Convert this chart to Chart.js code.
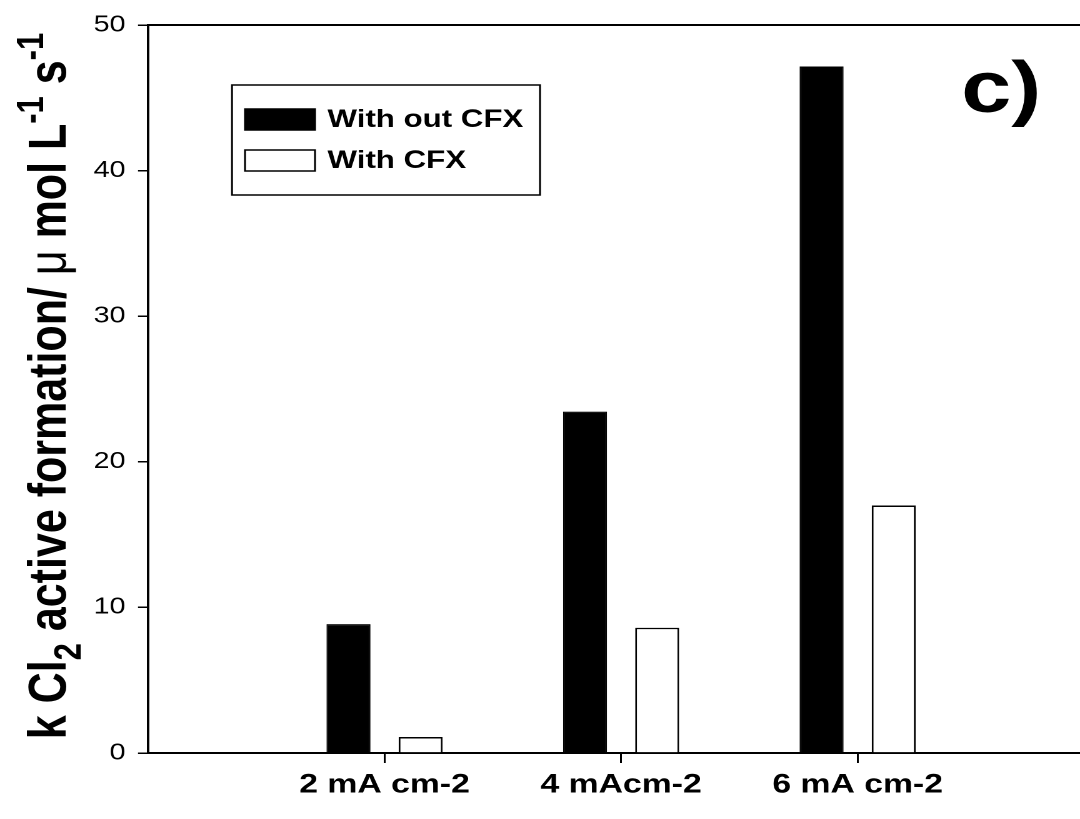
<!DOCTYPE html>
<html lang="en">
  <head>
    <meta charset="UTF-8" />
    <title>k Cl2 active formation</title>
    <script src="https://cdn.jsdelivr.net/npm/chart.js"></script>
    <style>
      html,
      body {
        margin: 0;
        padding: 0;
        background: #ffffff;
        overflow: hidden;
      }
      canvas {
        display: block;
      }
    </style>
  </head>
  <body>
    <!-- drawn on a narrower canvas, then stretched to full width -->
    <canvas id="kcl2Chart" width="864" height="819" style="width: 1080px; height: 819px"></canvas>
    <script>
      const categories = ["2 mA cm-2", "4 mAcm-2", "6 mA cm-2"];
      const withoutCFX = [8.85, 23.45, 47.15];
      const withCFX = [1.1, 8.6, 17.0];
      const seriesNames = ["With out CFX", "With CFX"];
      const yMax = 50;
      const yStep = 10;

      const FONT = "'Liberation Sans', Arial, sans-serif";

      // bars sit at x = 1, 2, 3 on a linear axis that starts at 0
      const toPoints = (vals) => vals.map((v, i) => ({ x: i + 1, y: v }));

      // y-axis title with sub- and superscripts
      const yTitlePlugin = {
        id: "yTitle",
        afterDraw(chart) {
          const ctx = chart.ctx;
          const size = 43;
          const parts = [
            { t: "k Cl" },
            { t: "2", sub: true },
            { t: " active formation/ " },
            { t: "\u03bc", normal: true },
            { t: " mol L" },
            { t: "-1", sup: true },
            { t: " s" },
            { t: "-1", sup: true },
          ];
          const fontFor = (p) => {
            const s = p.sub || p.sup ? Math.round(size * 0.72) : size;
            return (p.normal ? "normal " : "bold ") + s + "px " + FONT;
          };
          let total = 0;
          parts.forEach((p) => {
            ctx.font = fontFor(p);
            p.w = ctx.measureText(p.t).width;
            total += p.w;
          });
          ctx.save();
          ctx.translate(52.5, 386 + total / 2);
          ctx.rotate(-Math.PI / 2);
          ctx.fillStyle = "#000";
          ctx.textBaseline = "alphabetic";
          ctx.textAlign = "left";
          let x = 0;
          parts.forEach((p) => {
            ctx.font = fontFor(p);
            let dy = 0;
            if (p.sub) dy = size * 0.28;
            if (p.sup) dy = -size * 0.42;
            ctx.fillText(p.t, x, dy);
            x += p.w;
          });
          ctx.restore();
        },
      };

      // boxed legend inside the plot, plus the panel letter
      const insideLegendPlugin = {
        id: "insideLegend",
        afterDraw(chart) {
          const ctx = chart.ctx;
          ctx.save();
          ctx.lineWidth = 1.5;
          ctx.strokeStyle = "#000";
          ctx.strokeRect(185.6, 85, 246.4, 110);
          chart.data.datasets.forEach((ds, i) => {
            const y = 109 + i * 41;
            ctx.fillStyle = ds.backgroundColor;
            ctx.fillRect(196, y, 56, 21);
            ctx.lineWidth = 1.5;
            ctx.strokeStyle = ds.borderColor;
            ctx.strokeRect(196, y, 56, 21);
            ctx.fillStyle = "#000";
            ctx.font = "bold 25px " + FONT;
            ctx.textBaseline = "middle";
            ctx.textAlign = "left";
            ctx.fillText(ds.label, 262, y + 11);
          });
          ctx.font = "bold 72px " + FONT;
          ctx.textAlign = "right";
          ctx.textBaseline = "alphabetic";
          ctx.fillText("c)", 833, 112);
          ctx.restore();
        },
      };

      document.addEventListener("DOMContentLoaded", function () {
        const ctx = document.getElementById("kcl2Chart").getContext("2d");

        new Chart(ctx, {
          type: "bar",
          data: {
            datasets: [
              {
                label: seriesNames[0],
                data: toPoints(withoutCFX),
                backgroundColor: "#000000",
                borderColor: "#000000",
                borderWidth: 1,
              },
              {
                label: seriesNames[1],
                data: toPoints(withCFX),
                backgroundColor: "#ffffff",
                borderColor: "#000000",
                borderWidth: 1.5,
              },
            ],
          },
          options: {
            responsive: false,
            animation: false,
            devicePixelRatio: 2,
            categoryPercentage: 0.61,
            barPercentage: 0.61,
            layout: { padding: 0 },
            plugins: {
              legend: { display: false },
              tooltip: { enabled: false },
            },
            scales: {
              x: {
                type: "linear",
                position: "bottom",
                min: 0,
                max: 3.94,
                offset: false,
                z: 1,
                afterBuildTicks: (scale) => {
                  scale.ticks = categories.map((c, i) => ({ value: i + 1 }));
                },
                afterFit: (scale) => {
                  scale.height = 66;
                },
                grid: {
                  offset: false,
                  drawOnChartArea: false,
                  drawTicks: true,
                  tickLength: 10,
                  color: "#000",
                  lineWidth: 1.5,
                },
                border: { display: true, color: "#000", width: 2 },
                ticks: {
                  color: "#000",
                  padding: 6,
                  maxRotation: 0,
                  autoSkip: false,
                  font: { family: FONT, size: 27, weight: "bold" },
                  callback: (v) => categories[v - 1],
                },
              },
              xTop: {
                type: "linear",
                position: "top",
                min: 0,
                max: 3.94,
                offset: false,
                afterFit: (scale) => {
                  scale.height = 25;
                },
                grid: { display: false },
                ticks: { display: false },
                border: { display: true, color: "#000", width: 2 },
              },
              y: {
                min: 0,
                max: yMax,
                afterFit: (scale) => {
                  scale.width = 118.4;
                },
                grid: {
                  drawOnChartArea: false,
                  drawTicks: true,
                  tickLength: 8,
                  color: "#000",
                  lineWidth: 1.5,
                },
                border: { display: true, color: "#000", width: 2 },
                ticks: {
                  stepSize: yStep,
                  color: "#000",
                  padding: 10,
                  font: { family: FONT, size: 23 },
                },
              },
            },
          },
          plugins: [yTitlePlugin, insideLegendPlugin],
        });
      });
    </script>
  </body>
</html>
